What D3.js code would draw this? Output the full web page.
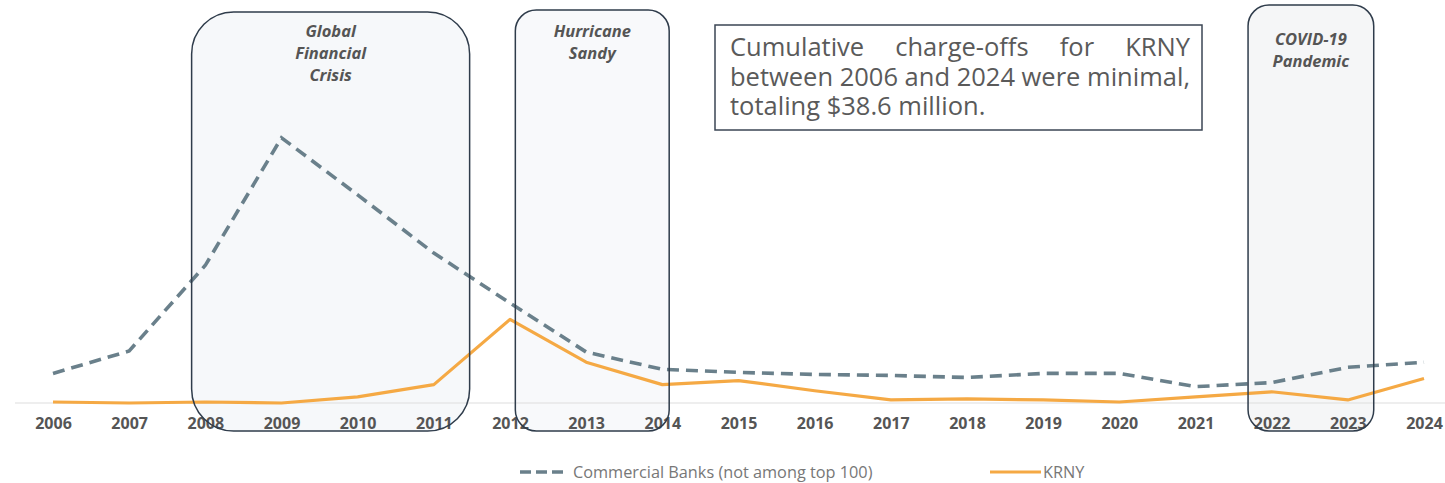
<!DOCTYPE html>
<html>
<head>
<meta charset="utf-8">
<script src="https://cdn.jsdelivr.net/npm/d3@7"></script>
<style>
  html, body { margin: 0; padding: 0; background: #fff; }
  svg { display: block; font-family: "Open Sans", "Noto Sans", sans-serif; }
</style>
</head>
<body>
<svg id="chart" width="1445" height="483"></svg>
<script>
// years on the x axis
const years = d3.range(2006, 2025);

// net charge-off rate, commercial banks outside the top 100 (%)
const banksValues = [0.29, 0.51, 1.35, 2.60, 2.04, 1.47, 0.98, 0.50, 0.33, 0.30,
                     0.28, 0.27, 0.25, 0.29, 0.29, 0.16, 0.20, 0.35, 0.40];

// KRNY net charge-off rate (%)
const krnyValues = [0.01, 0.00, 0.01, 0.00, 0.06, 0.18, 0.82, 0.40, 0.18, 0.22,
                    0.12, 0.03, 0.04, 0.03, 0.01, 0.06, 0.11, 0.03, 0.24];

// highlighted periods (in years along the axis)
const eventNames = [["Global", "Financial", "Crisis"], ["Hurricane", "Sandy"], ["COVID-19", "Pandemic"]];
const eventStart = [2007.82, 2012.07, 2021.69];
const eventEnd   = [2011.47, 2014.09, 2023.34];

const legendLabels = ["Commercial Banks (not among top 100)", "KRNY"];
const noteLines = ["Cumulative charge-offs for KRNY", "between 2006 and 2024 were minimal,", "totaling $38.6 million."];

const config = {
    width: 1445, height: 483,
    xLeft: 53, xRight: 1424,
    baseY: 403, topY: 46,
    boxBottom: 431,
    boxTop: [12, 10, 5],
    boxRadius: [42, 21, 21],
    boxFill: ["#f6f8fa", "#f8f9fb", "#f5f6f7"],
    labelY: [37, 37, 45],
    colors: { banks: "#6a808b", krny: "#f5a944", box: "#2f3c4b", text: "#555" }
};

const svg = d3.select("#chart");

const x = d3.scaleLinear().domain([2006, 2024]).range([config.xLeft, config.xRight]);
const y = d3.scaleLinear().domain([0, 3.5]).range([config.baseY, config.topY]);

const events = eventNames.map((lines, i) => ({ lines, start: eventStart[i], end: eventEnd[i], i }));

// box fills under everything
svg.append("g").selectAll("rect")
    .data(events)
    .join("rect")
    .attr("x", d => x(d.start))
    .attr("width", d => x(d.end) - x(d.start))
    .attr("y", d => config.boxTop[d.i])
    .attr("height", d => config.boxBottom - config.boxTop[d.i])
    .attr("rx", d => config.boxRadius[d.i])
    .attr("fill", d => config.boxFill[d.i]);

// baseline
svg.append("line")
    .attr("x1", 15).attr("x2", config.width)
    .attr("y1", y(0)).attr("y2", y(0))
    .attr("stroke", "#dedede")
    .attr("stroke-width", 1.2);

// x axis labels
const xAxis = d3.axisBottom(x)
    .tickValues(years)
    .tickFormat(d3.format("d"))
    .tickSize(0)
    .tickPadding(15);

const xAxisG = svg.append("g")
    .attr("transform", `translate(0,${config.baseY})`)
    .call(xAxis);
xAxisG.select(".domain").remove();
xAxisG.selectAll("text")
    .attr("fill", config.colors.text)
    .style("font-size", "16px")
    .style("font-weight", "700")
    .style("font-family", "'Open Sans', sans-serif");

// lines
const line = d3.line()
    .x((d, i) => x(years[i]))
    .y(d => y(d));

svg.append("path")
    .datum(krnyValues)
    .attr("d", line)
    .attr("fill", "none")
    .attr("stroke", config.colors.krny)
    .attr("stroke-width", 3.2)
    .attr("stroke-linejoin", "round");

svg.append("path")
    .datum(banksValues)
    .attr("d", line)
    .attr("fill", "none")
    .attr("stroke", config.colors.banks)
    .attr("stroke-width", 3.6)
    .attr("stroke-dasharray", "12,7");

// box outlines on top, they cut across lines and labels
svg.append("g").selectAll("rect")
    .data(events)
    .join("rect")
    .attr("x", d => x(d.start))
    .attr("width", d => x(d.end) - x(d.start))
    .attr("y", d => config.boxTop[d.i])
    .attr("height", d => config.boxBottom - config.boxTop[d.i])
    .attr("rx", d => config.boxRadius[d.i])
    .attr("fill", "none")
    .attr("stroke", config.colors.box)
    .attr("stroke-width", 1.5);

// event labels
events.forEach(ev => {
    const cx = (x(ev.start) + x(ev.end)) / 2;
    svg.append("text")
        .attr("text-anchor", "middle")
        .attr("fill", config.colors.text)
        .style("font-size", "16.5px")
        .style("font-weight", "700")
        .style("font-style", "italic")
        .selectAll("tspan")
        .data(ev.lines)
        .join("tspan")
        .attr("x", cx)
        .attr("y", (d, j) => config.labelY[ev.i] + j * 22)
        .text(d => d);
});

// annotation box with justified text
const note = { x: 715, y: 25, w: 487, h: 105, textX: 730, textW: 460, lineY: [56, 86, 115] };
svg.append("rect")
    .attr("x", note.x).attr("y", note.y)
    .attr("width", note.w).attr("height", note.h)
    .attr("fill", "#fff")
    .attr("stroke", "#3b4654")
    .attr("stroke-width", 1.5);

// pick the font size so the second line fills the box width with normal spacing
const probe = svg.append("text").style("font-size", "20px").text(noteLines[1]);
const noteSize = 20 * note.textW / probe.node().getComputedTextLength();
probe.remove();

// one text block, each word a tspan placed for justification
const noteText = svg.append("text")
    .style("font-size", noteSize + "px")
    .attr("fill", "#5a5a5a");

noteLines.forEach((txt, li) => {
    const words = txt.split(" ");
    const spans = words.map(w => noteText.append("tspan").attr("y", note.lineY[li]).text(w));
    const widths = spans.map(s => s.node().getComputedTextLength());
    const justify = li < noteLines.length - 1;
    const space = justify ? (note.textW - d3.sum(widths)) / (words.length - 1) : noteSize * 0.26;
    let cur = note.textX;
    spans.forEach((s, k) => {
        s.attr("x", cur);
        cur += widths[k] + space;
    });
});

// legend
const legY = 472;
const legG = svg.append("g");
legG.append("line")
    .attr("x1", 520).attr("x2", 564)
    .attr("y1", legY).attr("y2", legY)
    .attr("stroke", config.colors.banks)
    .attr("stroke-width", 3.6)
    .attr("stroke-dasharray", "11,5");
legG.append("text")
    .attr("x", 573).attr("y", legY + 5.5)
    .attr("fill", "#777")
    .style("font-size", "16.3px")
    .text(legendLabels[0]);
legG.append("line")
    .attr("x1", 990).attr("x2", 1041)
    .attr("y1", legY).attr("y2", legY)
    .attr("stroke", config.colors.krny)
    .attr("stroke-width", 3.2);
legG.append("text")
    .attr("x", 1043).attr("y", legY + 5.5)
    .attr("fill", "#777")
    .style("font-size", "16.3px")
    .text(legendLabels[1]);
</script>
</body>
</html>
